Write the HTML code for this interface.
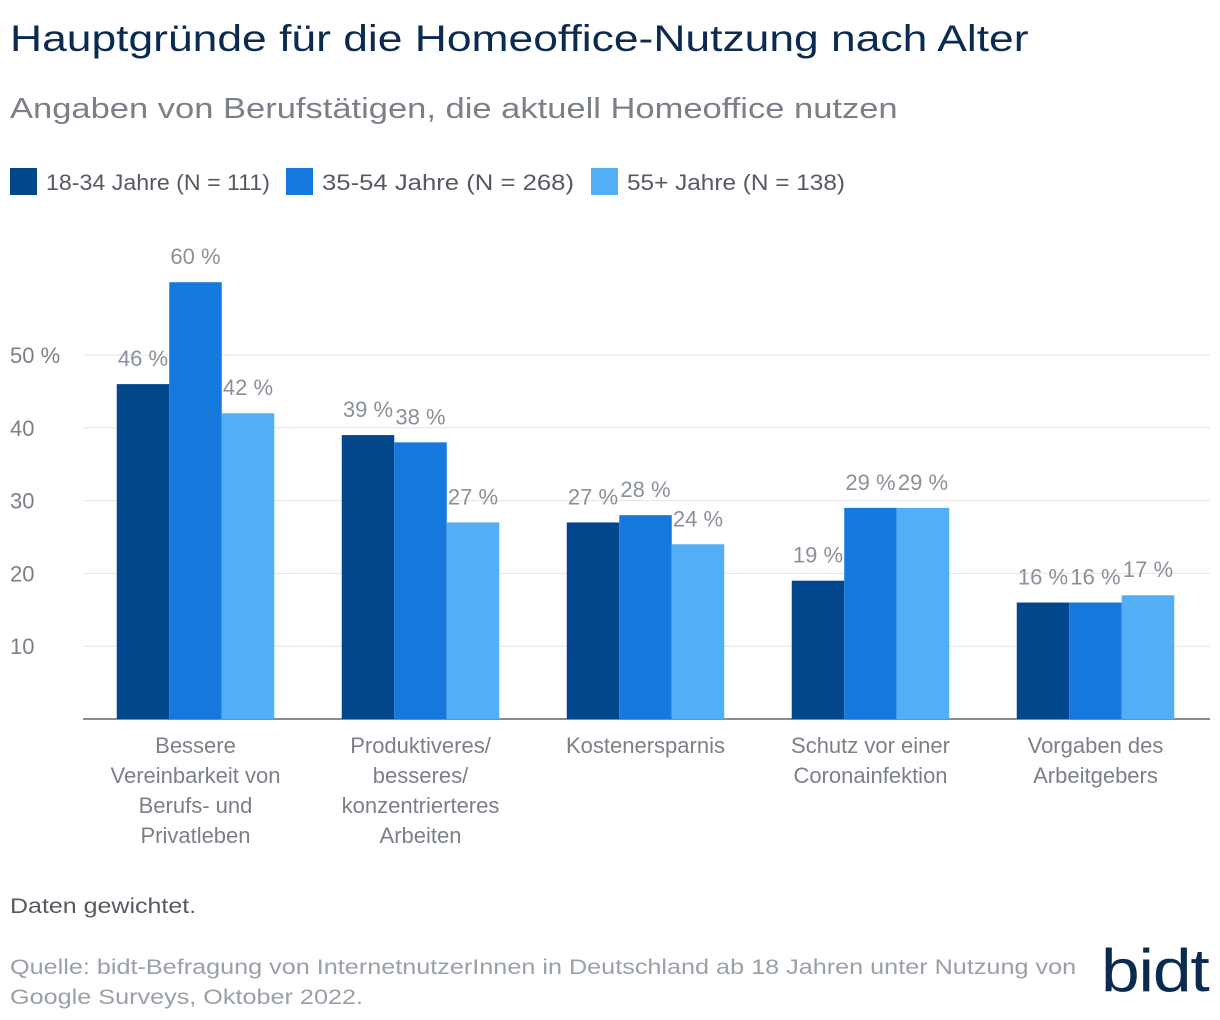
<!DOCTYPE html>
<html><head><meta charset="utf-8"><style>
body{margin:0;width:1220px;height:1020px;background:#fff;font-family:"Liberation Sans",sans-serif;position:relative;overflow:hidden}
.t{position:absolute;white-space:nowrap;transform-origin:0 0}
</style></head><body>
<div class="t" style="left:10px;top:18px;font-size:37px;color:#0b2a52;transform:scaleX(1.2)">Hauptgründe für die Homeoffice-Nutzung nach Alter</div>
<div class="t" style="left:10px;top:93px;font-size:29px;color:#7b8088;transform:scaleX(1.19)">Angaben von Berufstätigen, die aktuell Homeoffice nutzen</div>
<svg id="chart" width="1220" height="1020" style="position:absolute;left:0;top:0"></svg>
<div class="t" style="left:10px;top:895px;font-size:21px;color:#555a62;transform:scaleX(1.19)">Daten gewichtet.</div>
<div class="t" style="left:10px;top:953px;font-size:21px;color:#9aa0a8;line-height:30px;transform:scaleX(1.2)">Quelle: bidt-Befragung von InternetnutzerInnen in Deutschland ab 18 Jahren unter Nutzung von<br>Google Surveys, Oktober 2022.</div>
<div class="t" style="left:1101px;top:936px;font-size:60px;color:#0b2a52;letter-spacing:-1px;transform:scaleX(1.16)">bidt</div>
<script>
const categories=[["Bessere","Vereinbarkeit von","Berufs- und","Privatleben"],["Produktiveres/","besseres/","konzentrierteres","Arbeiten"],["Kostenersparnis"],["Schutz vor einer","Coronainfektion"],["Vorgaben des","Arbeitgebers"]];
const seriesNames=["18-34 Jahre (N = 111)","35-54 Jahre (N = 268)","55+ Jahre (N = 138)"];
const s1=[46,39,27,19,16];
const s2=[60,38,28,29,16];
const s3=[42,27,24,29,17];
const ticks=[10,20,30,40,50];
const colors=["#02478b","#1578dd","#53aff5"];
const NS="http://www.w3.org/2000/svg";
const svg=document.getElementById('chart');
const y0=719,ppu=7.28,x0=83,band=225,bw=52.5;
const y=v=>y0-v*ppu;
const xc=i=>x0+band*(i+0.5);
function mk(tag,attrs,txt){const e=document.createElementNS(NS,tag);for(const k in attrs)e.setAttribute(k,attrs[k]);if(txt!==undefined)e.textContent=txt;svg.appendChild(e);return e;}
ticks.forEach(t=>{
 const l=mk('line',{x1:83,x2:1210,y1:y(t),y2:y(t),stroke:'#e2e4e7','stroke-width':1});
 
 
 const tx=mk('text',{x:10,y:y(t)+8,'font-size':22,fill:'#7b8088'},t===50?t+' %':String(t));
 
 
});
const ax=mk('line',{x1:83,x2:1210,y1:y0,y2:y0,stroke:'#666','stroke-width':1.5});


[s1,s2,s3].forEach((s,k)=>{
 s.forEach((v,i)=>{
  const x=xc(i)+(k-1.5)*bw;
  const r=mk('rect',{x:x,y:y(v),width:bw,height:v*ppu,fill:colors[k]});
  
  
  const lb=mk('text',{x:x+bw/2,y:y(v)-18,'font-size':22,fill:'#8a9099','text-anchor':'middle'},v+' %');
  
  
 });
});
categories.forEach((c,i)=>{
 c.forEach((line,j)=>{
  const t=mk('text',{x:xc(i),y:753+j*30,'font-size':22,fill:'#7b8088','text-anchor':'middle'},line);
  
  
 });
});
const legX=[10,286,591];
const legW=[224,252,218];
seriesNames.forEach((n,k)=>{
 const lx=legX[k];
 const r=mk('rect',{x:lx,y:168,width:27,height:27,fill:colors[k]});
 
 
 const t=mk('text',{x:lx+36,y:190,'font-size':22,fill:'#555a62',textLength:legW[k],lengthAdjust:'spacingAndGlyphs'},n);
 
 
});
</script>
</body></html>
